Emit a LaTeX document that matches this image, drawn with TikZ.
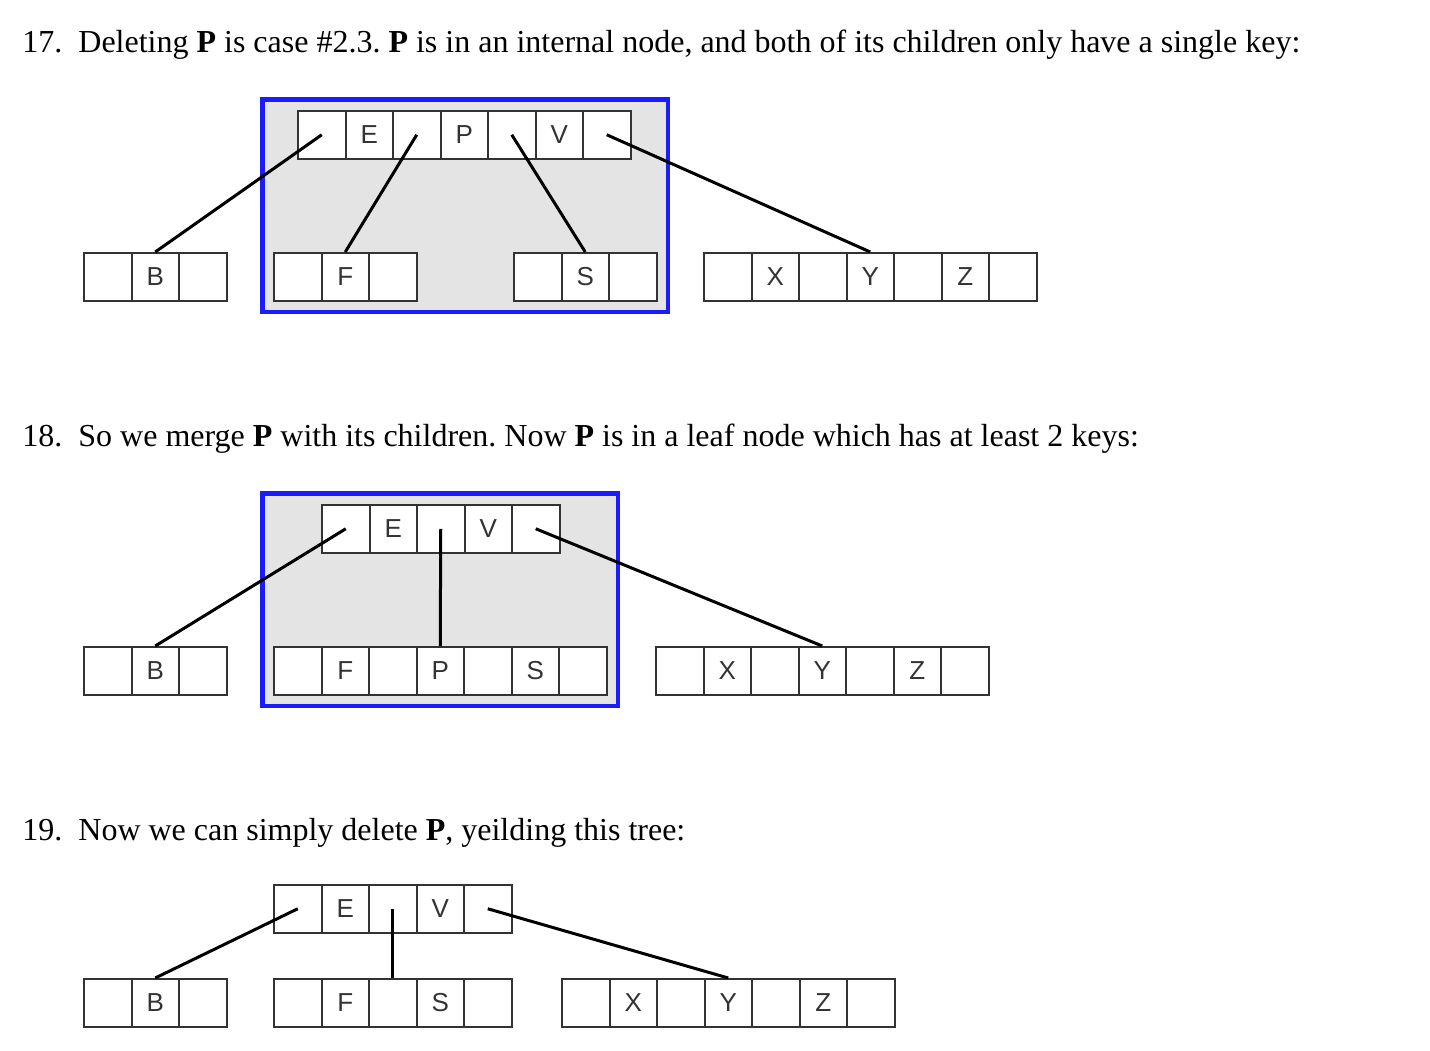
\documentclass[tikz,border=0pt]{standalone}
\usepackage{fontspec}
\setmainfont{Liberation Serif}
\newfontfamily\cellfont{Liberation Sans}
\usetikzlibrary{calc,fit,backgrounds}
\definecolor{hiBlue}{RGB}{28,28,250}
\definecolor{hiGray}{RGB}{228,228,228}
\definecolor{cellLine}{RGB}{51,51,51}
\frenchspacing
\tikzset{
  cell/.style={draw=cellLine, line width=1pt, fill=white, anchor=north west,
    minimum width=23.75pt, minimum height=23.75pt, inner sep=0pt,
    font=\cellfont\fontsize{13}{13}\selectfont, text=cellLine},
  link/.style={line width=1.5pt, black},
  hilite/.style={draw=hiBlue, line width=2.3pt, fill=hiGray, inner sep=5.2pt},
  caption/.style={anchor=base west, inner sep=0pt,
    font=\fontsize{16}{19}\selectfont}
}
% one B-tree node: name, left x, top y, list of cells
\newcommand{\keyNode}[4]{
    \foreach \k [count=\i] in {#4}
        \node[cell] (#1-\i) at ({#2+(\i-1)*47.5}, #3) {\k};
}
\newcommand{\linkKN}[2]{
    \draw[link] (#1.center) -- (#2.north);
}

\begin{document}
\begin{tikzpicture}[x=0.5pt, y=-0.5pt]
    \useasboundingbox (0,0) rectangle (1430,1050);

    % step 17
    \node[caption] (cap17) at (22,52) {17.\hspace{8pt}Deleting \textbf{P} is case \#2.3. \textbf{P} is in an internal node, and both of its children only have a single key:};
    \keyNode{top1}{297}{110}{{},E,{},P,{},V,{}}
    \keyNode{b1}{83}{252}{{},B,{}}
    \keyNode{f1}{273}{252}{{},F,{}}
    \keyNode{s1}{513}{252}{{},S,{}}
    \keyNode{xyz1}{703}{252}{{},X,{},Y,{},Z,{}}
    \begin{scope}[on background layer]
        \node[hilite, fit=(top1-1)(top1-7)(f1-1)(s1-3)] (box1) {};
    \end{scope}
    \linkKN{top1-1}{b1-2}
    \linkKN{top1-3}{f1-2}
    \linkKN{top1-5}{s1-2}
    \linkKN{top1-7}{xyz1-4}

    % step 18
    \node[caption] (cap18) at (22,446) {18.\hspace{8pt}So we merge \textbf{P} with its children. Now \textbf{P} is in a leaf node which has at least 2 keys:};
    \keyNode{top2}{321}{504}{{},E,{},V,{}}
    \keyNode{b2}{83}{646}{{},B,{}}
    \keyNode{fps2}{273}{646}{{},F,{},P,{},S,{}}
    \keyNode{xyz2}{655}{646}{{},X,{},Y,{},Z,{}}
    \begin{scope}[on background layer]
        \node[hilite, fit=(top2-1)(top2-5)(fps2-1)(fps2-7)] (box2) {};
    \end{scope}
    \linkKN{top2-1}{b2-2}
    \linkKN{top2-3}{fps2-4}
    \linkKN{top2-5}{xyz2-4}

    % step 19
    \node[caption] (cap19) at (22,840) {19.\hspace{8pt}Now we can simply delete \textbf{P}, yeilding this tree:};
    \keyNode{top3}{273}{884}{{},E,{},V,{}}
    \keyNode{b3}{83}{978}{{},B,{}}
    \keyNode{fs3}{273}{978}{{},F,{},S,{}}
    \keyNode{xyz3}{561}{978}{{},X,{},Y,{},Z,{}}
    \linkKN{top3-1}{b3-2}
    \linkKN{top3-3}{fs3-3}
    \linkKN{top3-5}{xyz3-4}
\end{tikzpicture}
\end{document}
